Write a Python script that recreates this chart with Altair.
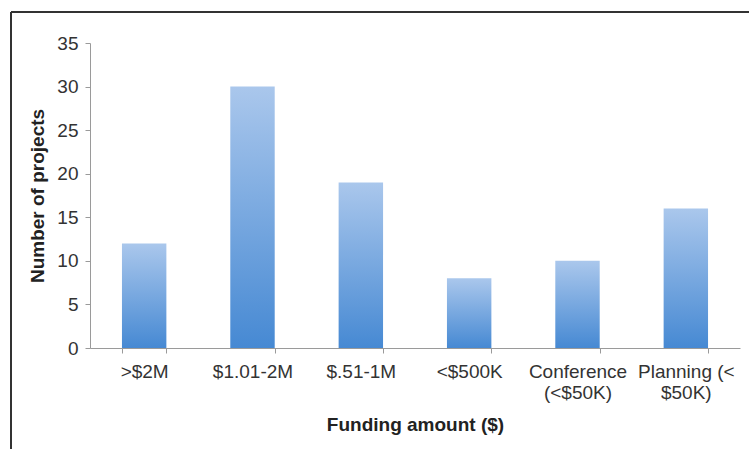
import altair as alt
import pandas as pd

categories = [">$2M", "$1.01-2M", "$.51-1M", "<$500K", "Conference\n(<$50K)", "Planning (<\n$50K)"]
projects = [12, 30, 19, 8, 10, 16]
y_ticks = [0, 5, 10, 15, 20, 25, 30, 35]

df = pd.DataFrame({"category": categories, "projects": projects})

FONT = "Liberation Sans"

grad = alt.Gradient(
    gradient="linear",
    stops=[alt.GradientStop(color="#aac7ec", offset=0),
           alt.GradientStop(color="#4689d3", offset=1)],
    x1=0, x2=0, y1=0, y2=1,
)

bars = alt.Chart(df).mark_bar(color=grad).encode(
    x=alt.X("category:N", sort=categories,
            scale=alt.Scale(paddingInner=0.59, paddingOuter=0.295),
            axis=alt.Axis(title="Funding amount ($)", labelAngle=0,
                          labelExpr="split(datum.label, '\\n')",
                          tickBand="extent", tickSize=5,
                          labelPadding=9, labelLineHeight=21,
                          titlePadding=13)),
    y=alt.Y("projects:Q", scale=alt.Scale(domain=[0, 35], nice=False),
            axis=alt.Axis(title="Number of projects", values=y_ticks,
                          tickSize=5, labelPadding=7, titlePadding=9)),
)

frame_top = alt.Chart(df).mark_rule(color="#333333", strokeWidth=1.5, clip=False).encode(
    x=alt.value(-79), x2=alt.value(659), y=alt.value(-31))
frame_left = alt.Chart(df).mark_rule(color="#333333", strokeWidth=1.5, clip=False).encode(
    x=alt.value(-79), y=alt.value(-31), y2=alt.value(406))

chart = alt.layer(frame_top, frame_left, bars).properties(
    width=650, height=305,
    autosize=alt.AutoSizeParams(type="none"),
    padding={"left": 90, "top": 43, "right": 9, "bottom": 101},
    background="white",
).configure_view(stroke=None).configure_axis(
    grid=False,
    domainColor="#9a9a9a", tickColor="#9a9a9a",
    labelFont=FONT, labelFontSize=19, labelColor="#333333",
    titleFont=FONT, titleFontSize=19, titleFontWeight="bold", titleColor="#222222",
)

chart.save("out.html", embed_options={"renderer": "svg", "actions": False})
